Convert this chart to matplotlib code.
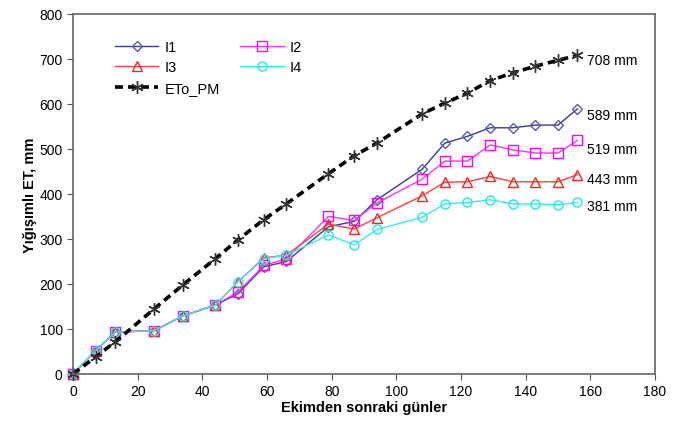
import matplotlib.pyplot as plt

plt.rcParams["font.family"] = ["Liberation Sans", "DejaVu Sans"]

days = [0, 7, 13, 25, 34, 44, 51, 59, 66, 79, 87, 94, 108, 115, 122, 129, 136, 143, 150, 156]
i1 = [0, 52, 93, 96, 129, 153, 178, 238, 250, 327, 339, 387, 455, 513, 528, 547, 547, 553, 553, 589]
i2 = [0, 52, 93, 96, 129, 153, 182, 241, 256, 350, 341, 380, 433, 473, 473, 509, 498, 491, 491, 519]
i3 = [0, 52, 93, 96, 129, 153, 205, 258, 264, 333, 322, 347, 396, 426, 427, 439, 427, 427, 427, 443]
i4 = [0, 52, 93, 96, 129, 153, 205, 256, 264, 309, 287, 321, 348, 378, 381, 387, 378, 378, 376, 381]
eto = [0, 38, 71, 144, 198, 256, 298, 343, 378, 445, 485, 513, 578, 602, 624, 652, 669, 684, 697, 708]

end_labels = ["708 mm", "589 mm", "519 mm", "443 mm", "381 mm"]
end_label_y = [698, 576, 500, 433, 373]

fig = plt.figure(figsize=(6.83, 4.27), dpi=100)
ax = fig.add_axes([0.107, 0.122, 0.852, 0.843])

ms = 6.5
h1, = ax.plot(days, i1, color="#3a3a9a", lw=1.0, marker="D", ms=5, mfc="none",
              mec="#5b5bb5", mew=1.0, label="I1", clip_on=False)
h2, = ax.plot(days, i2, color="#ff33ff", lw=1.0, marker="s", ms=ms, mfc="none",
              mec="#ff00ff", mew=1.0, label="I2", clip_on=False)
h3, = ax.plot(days, i3, color="#ff4040", lw=1.0, marker="^", ms=ms, mfc="none",
              mec="#ff2020", mew=1.0, label="I3", clip_on=False)
h4, = ax.plot(days, i4, color="#33eeee", lw=1.0, marker="o", ms=ms, mfc="none",
              mec="#22e5f0", mew=1.0, label="I4", clip_on=False)
h5, = ax.plot(days, eto, color="black", lw=2.6, ls=(0, (2.2, 1.4)), marker=(6, 2, 0),
              ms=9, mec="#333333", mew=1.0, label="ETo_PM", clip_on=False)

for txt, y in zip(end_labels, end_label_y):
    ax.text(159, y, txt, fontsize=10, ha="left", va="center")

ax.set_xlim(0, 180)
ax.set_ylim(0, 800)
ax.set_xticks(range(0, 181, 20))
ax.set_yticks(range(0, 801, 100))
ax.tick_params(labelsize=10, length=4, color="#555555", direction="out")
for sp in ax.spines.values():
    sp.set_color("#666666")
    sp.set_linewidth(1.2)

ax.set_xlabel("Ekimden sonraki günler", fontsize=10.5, fontweight="bold", labelpad=1)
ax.set_ylabel("Yığışımlı ET, mm", fontsize=10.5, fontweight="bold", labelpad=2)

ax.legend([h1, h3, h5, h2, h4], ["I1", "I3", "ETo_PM", "I2", "I4"], ncol=2,
          loc="upper left", bbox_to_anchor=(0.049, 0.965), frameon=False, fontsize=10.5,
          handlelength=3.0, handletextpad=0.4, columnspacing=1.4, labelspacing=0.45)

fig.savefig("out.png", dpi=100, facecolor="white")
